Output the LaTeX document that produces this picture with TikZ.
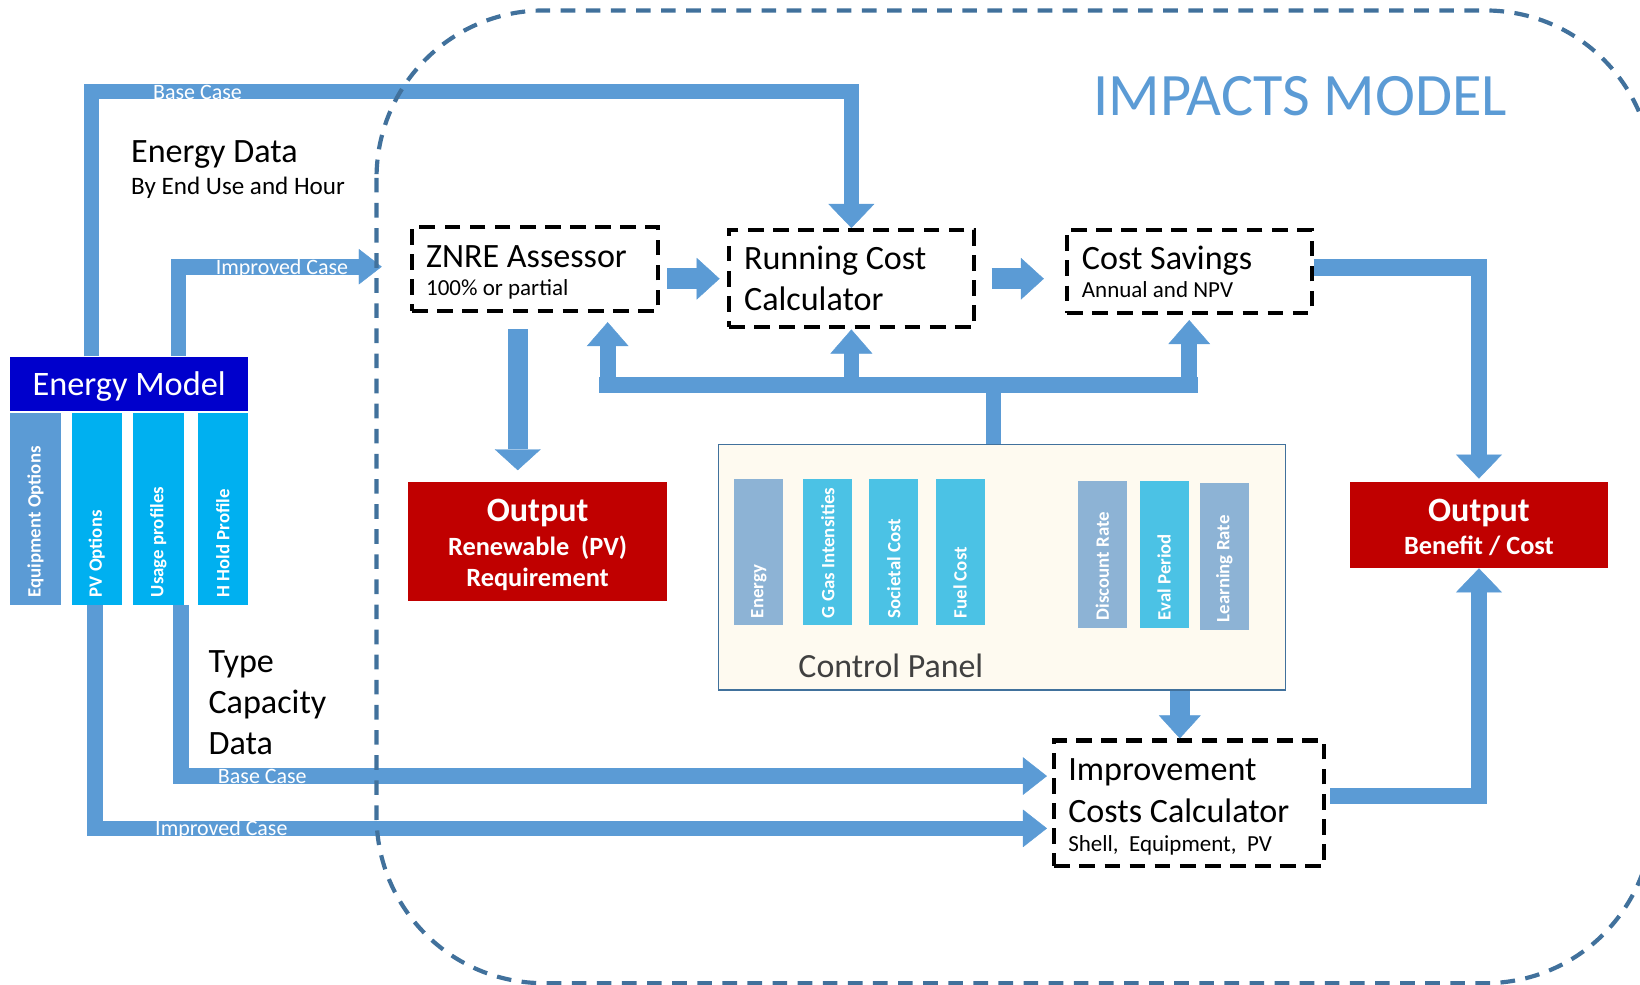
\documentclass[tikz,border=0pt]{standalone}
\usepackage{fontspec}
\setmainfont{Carlito}
\usetikzlibrary{arrows.meta,calc}
\definecolor{barblue}{RGB}{91,155,213}
\definecolor{barline}{RGB}{65,113,156}
\definecolor{emblue}{RGB}{0,0,204}
\definecolor{cyanbar}{RGB}{0,176,240}
\definecolor{cpgrey}{RGB}{141,179,213}
\definecolor{cpcyan}{RGB}{75,194,229}
\definecolor{outred}{RGB}{192,0,0}
\definecolor{cream}{RGB}{254,250,240}
\definecolor{cptext}{RGB}{64,64,64}
\newcommand\fsz[1]{\fontsize{#1pt}{#1pt}\selectfont}
\begin{document}
\begin{tikzpicture}[x=0.5pt,y=-0.5pt,
  ttl/.style={anchor=base west, inner sep=0pt, font=\fsz{16.3}},
  sub/.style={anchor=base west, inner sep=0pt, font=\fsz{11}},
  dbox/.style={draw=black, line width=2pt, dash pattern=on 7.5pt off 4.5pt, fill=white, inner sep=0pt},
  vlab/.style={rotate=90, anchor=west, inner sep=0pt, text=white, font=\bfseries\fsz{9}},
  conbar/.style={draw=barblue, line width=#1},
  conbar/.default=7.5pt,
  blockar/.style n args={3}{draw=barblue, line width=#1, -{Triangle[width=#2, length=#3, line width=0.2pt]}},
  clab/.style={anchor=base west, inner sep=0pt, text=white, font=\fsz{10.5}},
  lbar/.style={fill=#1, minimum width=24pt, minimum height=91.5pt, inner sep=0pt},
  cbar/.style={fill=#1, minimum width=23.5pt, minimum height=70pt, inner sep=0pt},
  outtxt/.style={anchor=base, inner sep=0pt, text=white, font=\bfseries\fsz{12.6}},
]
\useasboundingbox (0,0) rectangle (1568,941);

% ---------- boxes ----------
\node[fill=emblue, minimum width=113.5pt, minimum height=26pt, inner sep=0pt] (em) at (123.5,367) {};
\node[anchor=base, inner sep=0pt, text=white, font=\fsz{16.4}] (emtxt) at (123.5,378) {Energy Model};

\node[lbar=barblue] (eq) at (34,486.5) {};
\node[lbar=cyanbar] (pv) at (92.5,486.5) {};
\node[lbar=cyanbar] (up) at (151.5,486.5) {};
\node[lbar=cyanbar] (hh) at (213,486.5) {};
\node[vlab] (eqt) at ($(eq.south)+(0,-7)$) {Equipment Options};
\node[vlab] (pvt) at ($(pv.south)+(0,-7)$) {PV Options};
\node[vlab] (upt) at ($(up.south)+(0,-7)$) {Usage profiles};
\node[vlab] (hht) at ($(hh.south)+(0,-7)$) {H Hold Profile};

\node[dbox, minimum width=117.5pt, minimum height=40pt] (znre) at (511.5,257) {};
\node[dbox, minimum width=117pt, minimum height=46.5pt] (rcc) at (814,266.5) {};
\node[dbox, minimum width=117pt, minimum height=39.5pt] (cs) at (1137,259.5) {};
\node[dbox, minimum width=129pt, minimum height=60pt] (icc) at (1137,768) {};

\node[ttl] (znret) at (407,256) {ZNRE Assessor};
\node[sub] (znres) at (407,283) {100\% or partial};
\node[ttl] (rcct1) at (711,258) {Running Cost};
\node[ttl] (rcct2) at (711,297) {Calculator};
\node[ttl] (cst) at (1034,258) {Cost Savings};
\node[sub] (css) at (1034,284) {Annual and NPV};
\node[ttl] (icct1) at (1021,746) {Improvement};
\node[ttl] (icct2) at (1021,786) {Costs Calculator};
\node[sub] (iccs) at (1021,814) {Shell,\ \ Equipment,\ \ PV};

\node[fill=outred, minimum width=124pt, minimum height=57pt, inner sep=0pt] (outpv) at (514,518) {};
\node[outtxt, font=\bfseries\fsz{16.3}] (opv1) at (514,499) {Output};
\node[outtxt] (opv2) at (514,531) {Renewable\ \ (PV)};
\node[outtxt] (opv3) at (514,561) {Requirement};

\node[fill=outred, minimum width=123pt, minimum height=41pt, inner sep=0pt] (outbc) at (1414,502) {};
\node[outtxt, font=\bfseries\fsz{16.3}] (obc1) at (1414,499) {Output};
\node[outtxt] (obc2) at (1414,530) {Benefit / Cost};

\node[draw=barline, line width=0.8pt, fill=cream, minimum width=271pt, minimum height=117.5pt, inner sep=0pt] (cp) at (958,542.5) {};
\node[cbar=cpgrey] (b1) at (725.5,528) {};
\node[cbar=cpcyan] (b2) at (791.5,528) {};
\node[cbar=cpcyan] (b3) at (854.5,528) {};
\node[cbar=cpcyan] (b4) at (918,528) {};
\node[cbar=cpgrey] (b5) at (1054,530) {};
\node[cbar=cpcyan] (b6) at (1113,530) {};
\node[cbar=cpgrey] (b7) at (1170.5,532) {};
\node[vlab] (b1t) at ($(b1.south)+(0,-7)$) {Energy};
\node[vlab] (b2t) at ($(b2.south)+(0,-7)$) {G Gas Intensities};
\node[vlab] (b3t) at ($(b3.south)+(0,-7)$) {Societal Cost};
\node[vlab] (b4t) at ($(b4.south)+(0,-7)$) {Fuel Cost};
\node[vlab] (b5t) at ($(b5.south)+(0,-7)$) {Discount Rate};
\node[vlab] (b6t) at ($(b6.south)+(0,-7)$) {Eval Period};
\node[vlab] (b7t) at ($(b7.south)+(0,-7)$) {Learning Rate};
\node[anchor=base west, inner sep=0pt, text=cptext, font=\fsz{16.2}] (cpt) at (763,648) {Control Panel};

% ---------- free texts ----------
\node[anchor=base west, inner sep=0pt, text=barblue, font=\fsz{28.8}] (title) at (1045,110) {IMPACTS MODEL};
\node[ttl] (ed1) at (125,155) {Energy Data};
\node[anchor=base west, inner sep=0pt, font=\fsz{12}] (ed2) at (125,186) {By End Use and Hour};
\node[ttl] (tc1) at (199,643) {Type};
\node[ttl] (tc2) at (199,682) {Capacity};
\node[ttl] (tc3) at (199,721) {Data};

% ---------- connectors ----------
% top base case
\draw[blockar={7.5pt}{22pt}{11.5pt}] ($(em.north west)+(78,0)$) -- ++(0,-253) -| (rcc.north);
% top improved case
\draw[blockar={7.5pt}{17pt}{11pt}] ($(em.north west)+(161,0)$) |- ($(znre.west)+(-27,-2)$);
% znre -> rcc
\draw[blockar={10pt}{20pt}{11pt}, shorten <=3.5pt, shorten >=3.5pt] (znre.east |- rcc.west) -- (rcc.west);
% rcc -> cs
\draw[blockar={10pt}{20pt}{11pt}, shorten <=7.5pt, shorten >=10pt] (rcc.east) -- (cs.west |- rcc.east);
% cs -> output benefit/cost
\draw[blockar={8pt}{22pt}{11.5pt}, shorten >=1.5pt] ($(cs.east)+(0,-3.5)$) -| (outbc.north);
% icc -> output benefit/cost
\draw[blockar={8pt}{22pt}{11.5pt}, shorten <=2pt] ($(icc.east)+(0,-7)$) -| (outbc.south);
% control panel distribution
\coordinate (hubL) at (573,368);
\coordinate (hubR) at (1145,368);
\draw[conbar=7.5pt] ($(cp.north)+(-8,0)$) -- ($(cp.north)+(-8,-57)$);
\draw[conbar=7.5pt] (hubL) -- (hubR);
\draw[blockar={7.5pt}{20pt}{11.5pt}, shorten >=4.5pt] ($(hubL)+(8,3)$) -- ($(znre.south)+(69.5,0)$);
\draw[blockar={7.5pt}{20pt}{11.5pt}] ($(rcc.south |- hubL)+(0,3)$) -- (rcc.south);
\draw[blockar={7.5pt}{20pt}{11.5pt}, shorten >=2.5pt] ($(cs.south |- hubL)+(0,3)$) -- (cs.south);
% znre -> output pv
\draw[blockar={9.5pt}{22pt}{10pt}, shorten <=8pt, shorten >=5.5pt] ($(znre.south)+(-16.5,0)$) -- ($(outpv.north)+(-19,0)$);
% control panel -> icc
\draw[blockar={9.5pt}{20pt}{11pt}] ($(cp.south -| icc.north)+(-9,0)$) -- ($(icc.north)+(-9,0)$);
% bottom base case
\draw[blockar={7.5pt}{18pt}{11.5pt}] ($(up.south)+(21.5,0)$) |- ($(icc.west)+(-5,-26)$);
% bottom improved case
\draw[blockar={7.5pt}{18pt}{11.5pt}] ($(pv.south)+(-1.5,0)$) |- ($(icc.west)+(-5,24)$);

% connector labels
\node[clab] (l1) at (146,95) {Base Case};
\node[clab] (l2) at (206,262) {Improved Case};
\node[clab] (l3) at (208,749) {Base Case};
\node[clab] (l4) at (148,799) {Improved Case};

% ---------- impacts model boundary ----------
\draw[barline, line width=2pt, dash pattern=on 7pt off 5pt, rounded corners=80pt] (360,10) rectangle (1580,940);
\end{tikzpicture}
\end{document}
